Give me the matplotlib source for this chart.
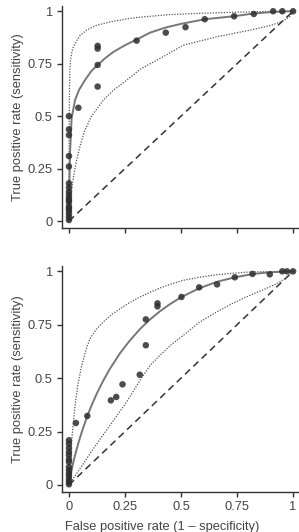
import matplotlib
matplotlib.use("Agg")
import matplotlib.pyplot as plt

plt.rcParams['font.family'] = ['Liberation Sans', 'DejaVu Sans']

# ---------------- Top panel data ----------------
top_pts_x = [0, 0, 0, 0, 0, 0, 0, 0, 0, 0, 0, 0, 0, 0, 0, 0, 0, 0,
             0.042, 0.128, 0.128, 0.128, 0.128, 0.302, 0.432, 0.52, 0.606,
             0.737, 0.825, 0.911, 0.952, 1.0]
top_pts_y = [0.005, 0.02, 0.035, 0.05, 0.07, 0.09, 0.125, 0.14, 0.16, 0.18,
             0.26, 0.31, 0.41, 0.437, 0.5, 0.11, 0.06, 0.10,
             0.54, 0.835, 0.822, 0.744, 0.641, 0.86, 0.898, 0.924, 0.962,
             0.976, 0.987, 1.0, 1.0, 1.0]

top_fit_x = [0, 0.002, 0.005, 0.012, 0.027, 0.045, 0.071, 0.1, 0.127, 0.16,
             0.198, 0.25, 0.302, 0.362, 0.43, 0.5, 0.607, 0.734, 0.823, 0.912, 1.0]
top_fit_y = [0, 0.18, 0.33, 0.49, 0.576, 0.625, 0.671, 0.715, 0.743, 0.775,
             0.806, 0.838, 0.865, 0.898, 0.922, 0.94, 0.962, 0.976, 0.989, 0.997, 1.0]

top_hi_x = [0, 0.0005, 0.002, 0.004, 0.007, 0.011, 0.017, 0.027, 0.05, 0.079,
            0.12, 0.183, 0.25, 0.302, 0.362, 0.45, 0.585, 0.7, 0.808, 0.9, 1.0]
top_hi_y = [0, 0.3, 0.6, 0.72, 0.765, 0.795, 0.822, 0.846, 0.885, 0.91,
            0.932, 0.949, 0.962, 0.97, 0.976, 0.984, 0.99, 0.994, 0.997, 0.999, 1.0]

top_lo_x = [0, 0.005, 0.012, 0.02, 0.034, 0.05, 0.071, 0.101, 0.153, 0.2,
            0.257, 0.32, 0.406, 0.51, 0.659, 0.808, 0.9, 0.957, 0.985, 1.0]
top_lo_y = [0, 0.08, 0.148, 0.21, 0.29, 0.36, 0.433, 0.5, 0.576, 0.625,
            0.671, 0.725, 0.775, 0.838, 0.878, 0.91, 0.932, 0.954, 0.975, 1.0]

# ---------------- Bottom panel data ----------------
bot_pts_x = [0, 0, 0, 0, 0, 0, 0, 0, 0, 0, 0, 0, 0, 0,
             0.031, 0.082, 0.187, 0.211, 0.239, 0.316, 0.343, 0.343, 0.395,
             0.395, 0.502, 0.581, 0.661, 0.74, 0.819, 0.896, 0.952, 0.973, 1.0]
bot_pts_y = [0.003, 0.014, 0.027, 0.042, 0.053, 0.069, 0.084, 0.108, 0.12,
             0.139, 0.154, 0.173, 0.193, 0.209,
             0.29, 0.323, 0.396, 0.412, 0.471, 0.516, 0.654, 0.775, 0.85,
             0.836, 0.88, 0.925, 0.939, 0.972, 0.988, 0.986, 1.0, 1.0, 1.0]

bot_fit_x = [0, 0.005, 0.01, 0.02, 0.027, 0.04, 0.06, 0.082, 0.1, 0.123, 0.153,
             0.183, 0.228, 0.27, 0.317, 0.362, 0.406, 0.45, 0.502, 0.58, 0.66,
             0.74, 0.82, 0.9, 1.0]
bot_fit_y = [0, 0.032, 0.06, 0.108, 0.138, 0.189, 0.257, 0.323, 0.37, 0.425,
             0.488, 0.544, 0.617, 0.674, 0.73, 0.775, 0.813, 0.846, 0.88, 0.92,
             0.951, 0.972, 0.9875, 0.996, 1.0]

bot_hi_x = [0, 0.003, 0.008, 0.016, 0.027, 0.04, 0.055, 0.075, 0.094, 0.123,
            0.153, 0.19, 0.228, 0.27, 0.317, 0.362, 0.406, 0.46, 0.51, 0.58,
            0.659, 0.73, 0.808, 0.9, 1.0]
bot_hi_y = [0, 0.08, 0.16, 0.25, 0.37, 0.47, 0.55, 0.63, 0.685, 0.73,
            0.763, 0.797, 0.825, 0.853, 0.88, 0.902, 0.922, 0.942, 0.958, 0.972,
            0.984, 0.991, 0.997, 0.999, 1.0]

bot_lo_x = [0, 0.049, 0.109, 0.183, 0.257, 0.317, 0.362, 0.406, 0.46, 0.51,
            0.58, 0.659, 0.73, 0.808, 0.87, 0.927, 0.97, 1.0]
bot_lo_y = [0, 0.076, 0.17, 0.279, 0.388, 0.49, 0.56, 0.607, 0.66, 0.7,
            0.76, 0.81, 0.85, 0.888, 0.915, 0.942, 0.97, 1.0]

chance = [0, 1]

tick_vals = [0, 0.25, 0.5, 0.75, 1]
tick_labels = ['0', '0.25', '0.5', '0.75', '1']

FS = 9.3
TXT = '#444444'
fig = plt.figure(figsize=(2.99, 5.32), dpi=100)
ax1 = fig.add_axes([62/299, 1 - 228/532, 236/299, 222/532])
ax2 = fig.add_axes([62/299, 1 - 492/532, 236/299, 226/532])


def draw(ax, px, py, fx, fy, hx, hy, lx, ly, xlabels):
    ax.plot(chance, chance, color='#333333', lw=1.1, ls=(0, (4.5, 3)), zorder=1)
    ax.plot(hx, hy, color='#555555', lw=0.9, ls=(0, (1, 1.2)), zorder=2)
    ax.plot(lx, ly, color='#555555', lw=0.9, ls=(0, (1, 1.2)), zorder=2)
    ax.plot(fx, fy, color='#777777', lw=1.4, zorder=3)
    ax.scatter(px, py, s=22, color='#2e2e2e', edgecolors='none', zorder=4,
               alpha=0.85)
    ax.set_xlim(-0.031, 1.022)
    ax.set_ylim(-0.033, 1.025)
    for s in ['top', 'right']:
        ax.spines[s].set_visible(False)
    for s in ['left', 'bottom']:
        ax.spines[s].set_linewidth(1.0)
        ax.spines[s].set_color('#333333')
    ax.set_xticks(tick_vals)
    ax.set_yticks(tick_vals)
    ax.set_yticklabels(tick_labels)
    if xlabels:
        ax.set_xticklabels(tick_labels)
    else:
        ax.set_xticklabels([])
    ax.tick_params(direction='out', length=3.6, width=1.0, color='#333333',
                   labelsize=FS, labelcolor=TXT, pad=3)
    ax.set_ylabel('True positive rate (sensitivity)', fontsize=FS,
                  color=TXT, labelpad=3)


draw(ax1, top_pts_x, top_pts_y, top_fit_x, top_fit_y, top_hi_x, top_hi_y,
     top_lo_x, top_lo_y, False)
draw(ax2, bot_pts_x, bot_pts_y, bot_fit_x, bot_fit_y, bot_hi_x, bot_hi_y,
     bot_lo_x, bot_lo_y, True)

fig.text(162.5/299, 1 - 527/532, 'False positive rate (1 \u2013 specificity)',
         fontsize=FS, color=TXT, ha='center', va='center')

fig.savefig('out.png', dpi=100)
